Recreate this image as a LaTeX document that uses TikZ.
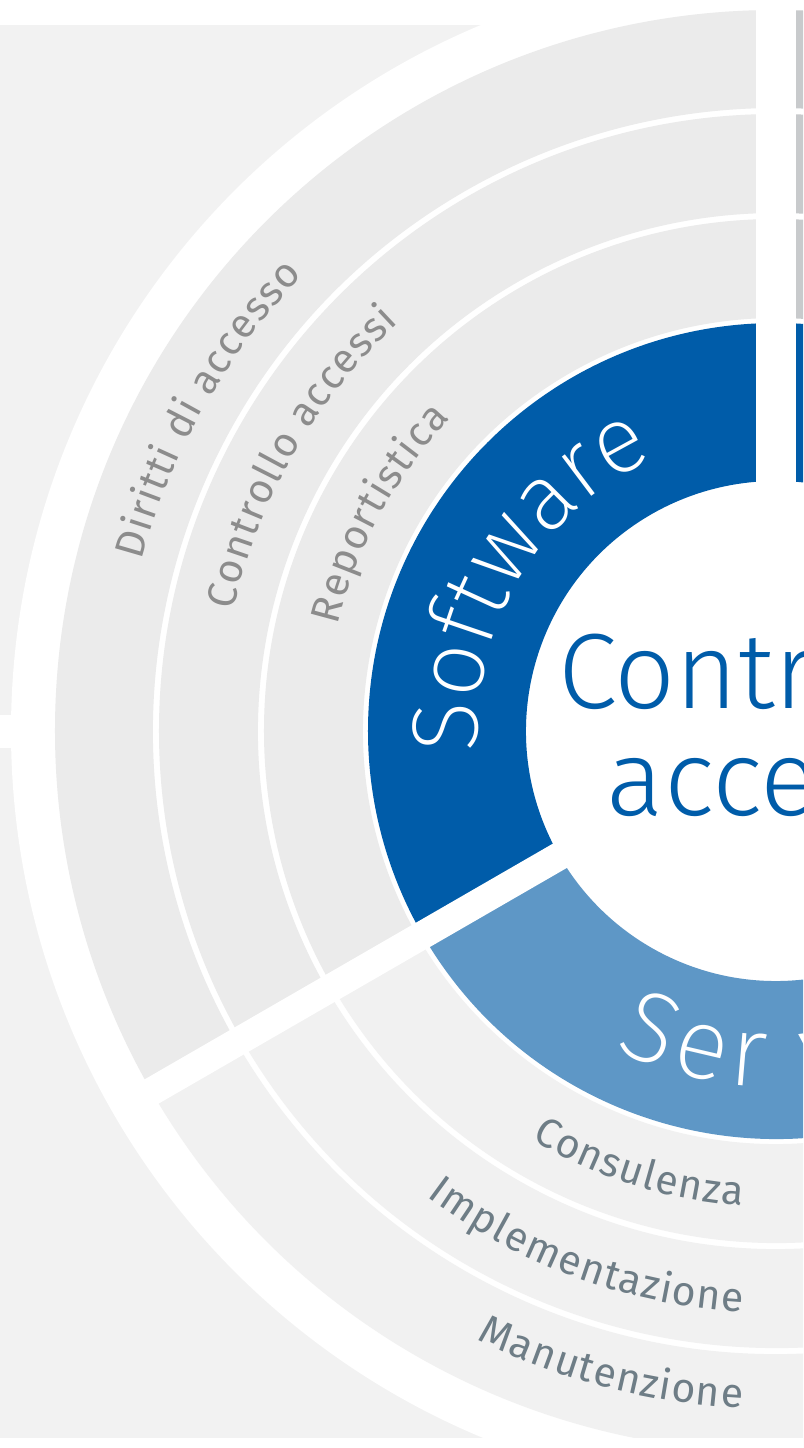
\documentclass[tikz,border=0pt]{standalone}
\usepackage{fontspec}
\usetikzlibrary{decorations.text}
\newfontfamily\labelfont{Fira Sans}
\newfontfamily\titlefont{Fira Sans Light}
\newfontfamily\ringfont{Fira Sans ExtraLight}
\definecolor{swblue}{HTML}{005CA9}
\definecolor{ltblue}{HTML}{5E97C6}
\definecolor{swgray}{HTML}{EBEBEB}
\definecolor{svgray}{HTML}{F1F1F1}
\definecolor{bggray}{HTML}{F2F2F2}
\definecolor{hwgray}{HTML}{C8CACC}
\definecolor{swtext}{HTML}{8C8C8C}
\definecolor{svtext}{HTML}{6E7D86}
\tikzset{
  ringtext/.style={decorate, decoration={text along path, text align=center, text color=white,
    text={|\ringfont\fontsize{94}{94}\selectfont|#1}}},
  svring/.style={decorate, decoration={text effects along path, text={#1}, text align=left,
    text effects/.cd, text along path, characters={text=white, font=\ringfont\fontsize{100}{100}\selectfont},
    character widths={font=\ringfont\fontsize{100}{100}\selectfont, inner xsep=3pt}}},
  swlabel/.style={decorate, decoration={text effects along path, text={#1}, text align=left,
    text effects/.cd, text along path, characters={text=swtext, font=\labelfont\fontsize{41}{41}\selectfont},
    character widths={font=\labelfont\fontsize{41}{41}\selectfont, inner xsep=0.6pt}}},
  svlabel/.style={decorate, decoration={text effects along path, text={#1}, text align=right,
    text effects/.cd, text along path, characters={text=svtext, font=\labelfont\fontsize{41}{41}\selectfont},
    character widths={font=\labelfont\fontsize{41}{41}\selectfont, inner xsep=0.6pt}}},
  titletext/.style={font=\titlefont\fontsize{107}{107}\selectfont, text=swblue, inner sep=0pt, anchor=base}
}

\begin{document}
\begin{tikzpicture}[x=1pt,y=1pt]
 \useasboundingbox (-776,-717) rectangle (27,731);
 \clip (-776,-717) rectangle (27,731);
 % background
 \fill[bggray] (-776,-707) rectangle (27,706);
 \fill[white] (-776,-17) rectangle (0,16);
 \fill[white] (0,0) circle (765);
 % software
 \fill[swblue] (90:408) arc[start angle=90,end angle=210,radius=408] -- (210:250) arc[start angle=210,end angle=90,radius=250] -- cycle;
 \foreach \ri/\ro in {413/512,518/617,623/721}
  \fill[swgray] (90:\ro) arc[start angle=90,end angle=210,radius=\ro] -- (210:\ri) arc[start angle=210,end angle=90,radius=\ri] -- cycle;
 % services
 \fill[ltblue] (210:408) arc[start angle=210,end angle=330,radius=408] -- (330:250) arc[start angle=330,end angle=210,radius=250] -- cycle;
 \foreach \ri/\ro in {413/512,518/617,623/721}
  \fill[svgray] (210:\ro) arc[start angle=210,end angle=330,radius=\ro] -- (330:\ri) arc[start angle=330,end angle=210,radius=\ri] -- cycle;
 % hardware
 \fill[swblue] (-30:408) arc[start angle=-30,end angle=90,radius=408] -- (90:250) arc[start angle=90,end angle=-30,radius=250] -- cycle;
 \foreach \ri/\ro in {413/512,518/617,623/721}
  \fill[hwgray] (-30:\ro) arc[start angle=-30,end angle=90,radius=\ro] -- (90:\ri) arc[start angle=90,end angle=-30,radius=\ri] -- cycle;
 % dividers
 \fill[white] (-20,0) rectangle (20,770);
 \fill[white,rotate=210] (0,-14) rectangle (760,14);
 \fill[white,rotate=330] (0,-14) rectangle (760,14);
 \fill[white] (-776,-717) rectangle (27,-707);
 % ring texts
 \path[ringtext={Software}] (194:298) arc[start angle=194,end angle=104,radius=298];
 \path[svring={Ser vizi}] (242.5:356) arc[start angle=242.5,end angle=330,radius=356];
 % labels
 \path[swlabel={Diritti di accesso}] (165:657) arc[start angle=165,end angle=100,radius=657];
 \path[swlabel={Controllo accessi}] (167.5:556) arc[start angle=167.5,end angle=100,radius=556];
 \path[swlabel={Reportistica}] (166.5:451) arc[start angle=166.5,end angle=100,radius=451];
 \path[svlabel={Consulenza}] (200:476) arc[start angle=200,end angle=266,radius=476];
 \path[svlabel={Implementazione}] (200:582) arc[start angle=200,end angle=266.8,radius=582];
 \path[svlabel={Manutenzione}] (200:678) arc[start angle=200,end angle=267.2,radius=678];
 % centre
 \node[titletext] (ctrl) at (0,23) {Controllo};
 \node[titletext] (acc) at (0,-84) {accessi};
\end{tikzpicture}
\end{document}
